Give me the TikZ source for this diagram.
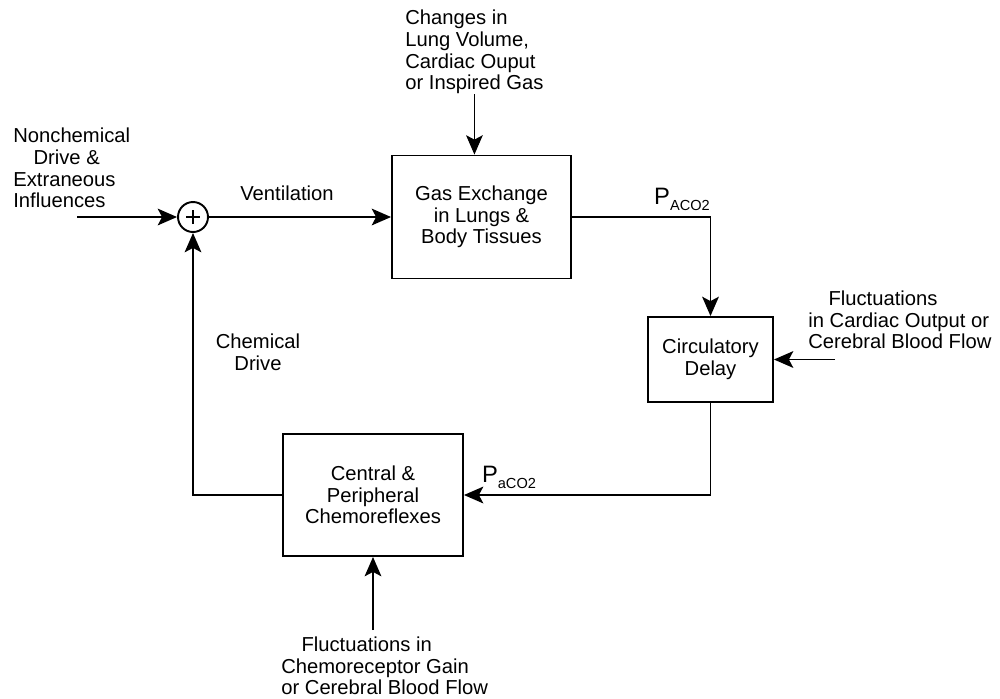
\documentclass[tikz,border=0pt]{standalone}
\usepackage{fontspec}
\setmainfont{Liberation Sans}
\usetikzlibrary{arrows.meta, positioning}
\newcommand{\ppress}[1]{%
    {\fontsize{13.5}{14}\selectfont P}%
    \raisebox{-0.55ex}{\fontsize{8.3}{9}\selectfont #1CO2}%
}
\newcommand{\lineind}{\hspace*{1em}}
\tikzset{
    block/.style={draw=black, line width=1.1pt, inner sep=0pt, align=center},
    sumnode/.style={
        circle, draw=black, line width=1.1pt, minimum size=0.6cm, inner sep=0pt,
        path picture={
            \draw[line width=1pt]
                ([xshift=-0.14cm]path picture bounding box.center) --
                ([xshift=0.14cm]path picture bounding box.center)
                ([yshift=-0.14cm]path picture bounding box.center) --
                ([yshift=0.14cm]path picture bounding box.center);
        }
    },
    flow/.style={line width=1.1pt, -{Stealth[length=11pt, width=9.5pt, inset=2.5pt]}},
    thinflow/.style={flow, line width=0.6pt},
    lbl/.style={align=left, inner sep=0pt},
}
\begin{document}
\begin{tikzpicture}[x=0.02cm, y=-0.02cm, font=\fontsize{11.5}{12.3}\selectfont]
    \useasboundingbox (0,0) rectangle (1000,698);
    % blocks
    \node[block, minimum width=3.58cm, minimum height=2.46cm] (gas) at (481.5,217)
        {Gas Exchange\\in Lungs \&\\Body Tissues};
    \node[block, minimum width=2.5cm, minimum height=1.7cm] (circ) at (710.5,359.5)
        {Circulatory\\Delay};
    \node[block, minimum width=3.6cm, minimum height=2.44cm] (chemo) at (373,495)
        {Central \&\\Peripheral\\Chemoreflexes};
    \node[sumnode] (sum) at (193,217) {};
    % disturbances
    \node[lbl, anchor=west] (nonchem) at (13,168)
        {Nonchemical\\\lineind Drive \&\\Extraneous\\Influences};
    \coordinate (ncin) at (77,217);
    \node[lbl, anchor=west] (changes) at (405,52)
        {Changes in\\Lung Volume,\\Cardiac Ouput\\or Inspired Gas};
    \node[lbl, anchor=west] (cofluct) at (808,320)
        {\lineind Fluctuations\\in Cardiac Output or\\Cerebral Blood Flow};
    \coordinate (cofin) at (835,359.5);
    \node[lbl, anchor=west] (cgfluct) at (281,666)
        {\lineind Fluctuations in\\Chemoreceptor Gain\\or Cerebral Blood Flow};
    \coordinate (cgin) at (373,630);
    % signal labels
    \node (vent) at (287,193) {Ventilation};
    \node[align=center] (chemdrive) at (258,352) {Chemical\\Drive};
    \node[inner sep=0pt] (pA) at (682,199) {\ppress{A}};
    \node[inner sep=0pt] (pa) at (509,477) {\ppress{a}};
    % connectors
    \draw[flow] (ncin) -- (sum);
    \draw[flow] (sum) -- (gas);
    \draw[thinflow] (changes.south) -- (changes.south |- gas.north);
    \draw[flow] (gas.east) -| (circ.north);
    \draw[flow] (cofin) -- (circ.east);
    \draw[flow] (circ.south) |- (chemo.east);
    \draw[flow] (chemo.west) -| (sum.south);
    \draw[flow] (cgin) -- (chemo.south);
\end{tikzpicture}
\end{document}
